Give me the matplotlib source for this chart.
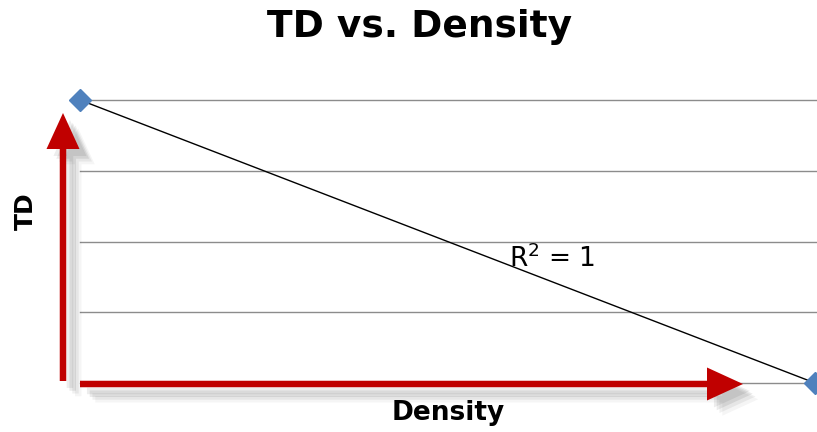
import numpy as np
import matplotlib
matplotlib.use('Agg')
import matplotlib.pyplot as plt
from matplotlib.patches import FancyArrow
import matplotlib.patheffects as pe

# data
density = [0, 10]
td = [4, 0]
grid_levels = [0, 1, 2, 3, 4]
r2_label = "R$^2$ = 1"

W, H, DPI = 817, 432, 100
fig = plt.figure(figsize=(W / DPI, H / DPI), dpi=DPI)
plt.rcParams['font.family'] = ['DejaVu Sans']

# axes placed by pixels (y measured from image top)
ax = fig.add_axes([80 / W, (H - 383) / H, (815 - 80) / W, (383 - 100) / H])
ax.set_xlim(density[0], density[1])
ax.set_ylim(grid_levels[0], grid_levels[-1])
for s in ax.spines.values():
    s.set_visible(False)
ax.set_xticks([])
ax.set_yticks([])
for g in grid_levels:
    ax.axhline(g, xmin=0, xmax=1.003, color='#8c8c8c', lw=1.0, zorder=1, clip_on=False)

ax.plot(density, td, color='black', lw=1.0, zorder=2, clip_on=False)
ax.plot(density, td, linestyle='none', marker='D', ms=11, color='#4F81BD',
        zorder=3, clip_on=False)

fig.text(552 / W, 1 - 267 / H, r2_label, ha='center', va='baseline',
         fontsize=19, color='black')
fig.text(420 / W, 1 - 37 / H, "TD vs. Density", ha='center', va='baseline',
         fontsize=27, fontweight='bold')
fig.text(448 / W, 1 - 420 / H, "Density", ha='center', va='baseline',
         fontsize=19, fontweight='bold')
fig.text(26 / W, 1 - 211 / H, "TD", ha='center', va='center',
         fontsize=18, fontweight='bold', rotation=90)

# red arrows with soft shadow (pixel coords, y from top)
shadow = [pe.SimplePatchShadow(offset=(o, -o), shadow_rgbFace='#000000', alpha=a)
          for o, a in [(11, 0.04), (9, 0.06), (7, 0.08), (5, 0.07)]] + [pe.Normal()]


def px_arrow(x0, y0, x1, y1):
    a = FancyArrow(x0 / DPI, (H - y0) / DPI, (x1 - x0) / DPI, (y0 - y1) / DPI,
                   width=6.5 / DPI, head_width=33 / DPI, head_length=36 / DPI,
                   length_includes_head=True, color='#C00000', lw=0,
                   transform=fig.dpi_scale_trans)
    a.set_path_effects(shadow)
    fig.add_artist(a)


px_arrow(63, 381, 63, 113)
px_arrow(80, 384, 743, 384)

fig.savefig('out.png', dpi=DPI)
